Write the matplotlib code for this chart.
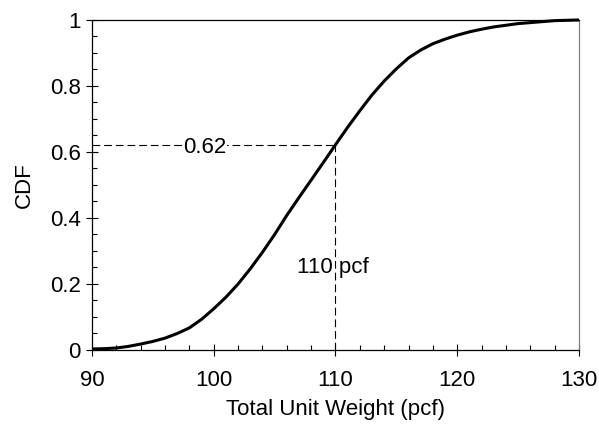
import matplotlib
matplotlib.use("Agg")
import matplotlib.pyplot as plt
from matplotlib.ticker import MultipleLocator

plt.rcParams['font.family'] = ['Liberation Sans', 'DejaVu Sans']

weight = list(range(90, 131))
cdf = [0.003, 0.004, 0.006, 0.011, 0.018, 0.026, 0.036, 0.050, 0.067, 0.093,
       0.125, 0.160, 0.200, 0.246, 0.296, 0.350, 0.408, 0.462, 0.515, 0.568,
       0.622, 0.675, 0.725, 0.773, 0.815, 0.852, 0.885, 0.909, 0.928, 0.942,
       0.954, 0.964, 0.972, 0.979, 0.984, 0.989, 0.992, 0.995, 0.998, 0.999, 1.0]

ref_x = 110
ref_p = 0.62
xticks = [90, 100, 110, 120, 130]
yticks = [0, 0.2, 0.4, 0.6, 0.8, 1]

fig = plt.figure(figsize=(5.99, 4.25), dpi=100)
ax = fig.add_axes([0.1536, 0.1765, 0.8130, 0.7765])

ax.plot(weight, cdf, color='black', lw=2.2, solid_capstyle='butt', solid_joinstyle='round',
        zorder=3, clip_on=False)
ax.plot([weight[0], ref_x], [ref_p, ref_p], color='black', lw=0.8, dashes=(7, 3.5), zorder=2)
ax.plot([ref_x, ref_x], [0, ref_p], color='black', lw=0.8, dashes=(7, 3.5), zorder=2)

ax.text(99.3, ref_p - 0.005, '0.62', fontsize=16, ha='center', va='center', zorder=4,
        bbox=dict(facecolor='white', edgecolor='none', pad=0.3))
ax.text(109.8, 0.25, '110 pcf', fontsize=16, ha='center', va='center', zorder=4)

ax.set_xlim(90, 130)
ax.set_ylim(0, 1)
ax.set_xticks(xticks)
ax.set_yticks(yticks)
ax.set_yticklabels(['0', '0.2', '0.4', '0.6', '0.8', '1'])
ax.xaxis.set_minor_locator(MultipleLocator(2))
ax.yaxis.set_minor_locator(MultipleLocator(0.05))
ax.tick_params(which='major', direction='inout', length=8.5, width=0.8, labelsize=16, color='black')
ax.tick_params(which='minor', direction='in', length=3.5, width=0.8, color='black')
ax.tick_params(axis='x', which='major', pad=10)
ax.tick_params(axis='y', which='major', pad=4)

for s in ['left', 'bottom', 'top']:
    ax.spines[s].set_linewidth(0.9)
    ax.spines[s].set_color('black')
ax.spines['right'].set_linewidth(0.9)
ax.spines['right'].set_color('#808080')

ax.set_xlabel('Total Unit Weight (pcf)', fontsize=16, labelpad=6)
ax.set_ylabel('CDF', fontsize=16, labelpad=11)

fig.savefig('out.png', dpi=100)
